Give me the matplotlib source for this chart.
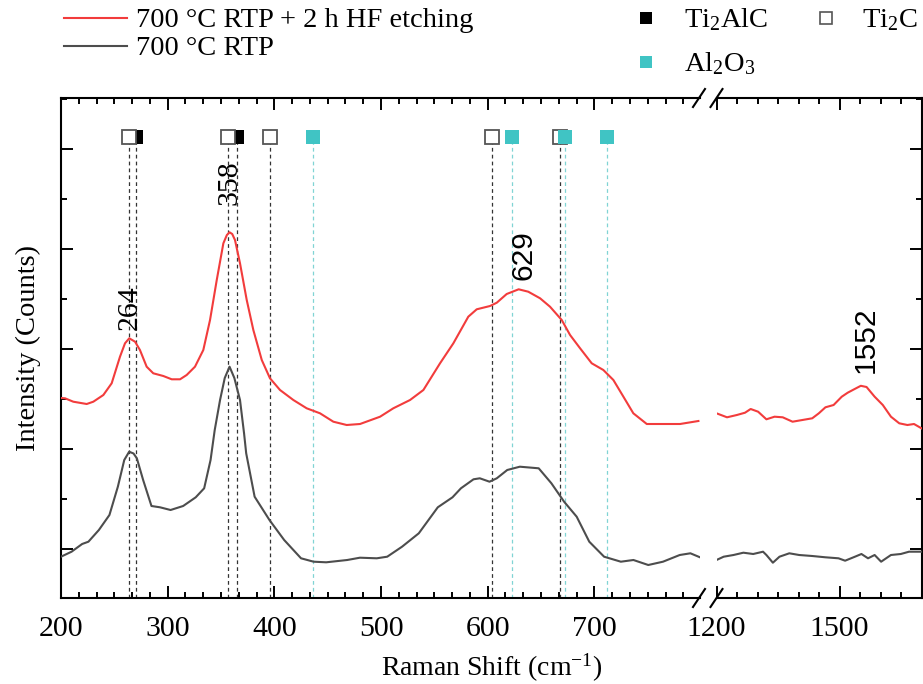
import matplotlib
matplotlib.use("Agg")
import matplotlib.pyplot as plt
from matplotlib.lines import Line2D
from matplotlib.ticker import MultipleLocator

plt.rcParams['font.family'] = ['Liberation Serif', 'DejaVu Serif']
plt.rcParams['mathtext.fontset'] = 'custom'
plt.rcParams['mathtext.rm'] = 'Liberation Serif'
plt.rcParams['mathtext.it'] = 'Liberation Serif:italic'
plt.rcParams['mathtext.bf'] = 'Liberation Serif:bold'

# ---- Raman spectra (shift in cm^-1, intensity in counts, offset) ----
# 700 °C RTP + 2 h HF etching, low-shift window
hf_low_x = [200, 203.8, 211.5, 224.1, 230.3, 239.7, 247.5, 255.3, 260.0, 264.0,
            269.4, 274.0, 280.3, 286.5, 295.9, 303.8, 311.6, 317.8, 325.6, 333.4,
            339.7, 346.0, 352.2, 355.5, 358.0, 360.5, 363.1, 367.8, 374.1, 380.3, 388.2, 395.9,
            405.3, 417.8, 430.3, 442.8, 455.3, 467.8, 480.3, 499.1, 511.5, 527.2,
            539.7, 555.3, 567.8, 581.8, 589.7, 602.2, 608.5, 617.8, 629.0, 638.0,
            649.1, 658.4, 669.4, 677.2, 686.6, 697.5, 708.4, 717.8, 727.2, 736.5,
            749.1, 764.7, 780.3, 797.5]
hf_low_y = [1510, 1507, 1473, 1450, 1473, 1540, 1657, 1923, 2057, 2107,
            2073, 1990, 1823, 1757, 1730, 1697, 1697, 1740, 1823, 1990,
            2290, 2690, 3057, 3140, 3167, 3150, 3090, 2857, 2490, 2190, 1890, 1707,
            1590, 1490, 1407, 1357, 1273, 1240, 1250, 1323, 1407, 1490,
            1590, 1857, 2057, 2323, 2397, 2430, 2463, 2550, 2597, 2573,
            2507, 2423, 2290, 2140, 2007, 1857, 1790, 1690, 1523, 1357,
            1250, 1250, 1250, 1280]
# 700 °C RTP + 2 h HF etching, high-shift window
hf_high_x = [1200, 1225.7, 1249.7, 1269.6, 1283.3, 1301.5, 1321.7, 1341.6, 1361.5,
             1385.5, 1409.5, 1433.5, 1449.6, 1465.7, 1485.6, 1505.5, 1520.0, 1537.0,
             1552.0, 1566.0, 1585.7, 1605.6, 1625.5, 1645.7, 1665.6, 1681.7, 1700]
hf_high_y = [1357, 1317, 1340, 1363, 1400, 1373, 1297, 1323, 1317,
             1273, 1290, 1307, 1357, 1417, 1440, 1523, 1563, 1600,
             1632, 1620, 1523, 1440, 1323, 1257, 1240, 1250, 1207]

# 700 °C RTP, low-shift window
rtp_low_x = [200, 209.9, 219.8, 225.7, 235.5, 245.4, 253.3, 259.3, 263.9, 268.0, 271.1,
             277.0, 284.8, 292.8, 302.7, 314.5, 326.3, 334.2, 340.2, 344.1, 349.1,
             353.5, 358.0, 362.5, 367.8, 371.6, 373.6, 381.5, 395.4, 409.2, 425.0, 436.8, 448.6,
             468.3, 480.2, 496.0, 505.8, 519.7, 535.4, 553.2, 567.0, 574.9, 586.7,
             592.6, 601.7, 608.5, 618.3, 630.1, 647.8, 659.7, 671.6, 683.4, 695.2,
             709.1, 724.8, 736.6, 750.5, 764.3, 780.0, 790.0, 799.0]
rtp_low_y = [-77, -27, 50, 73, 190, 340, 623, 890, 973, 955, 907,
             690, 430, 417, 390, 430, 517, 607, 890, 1190, 1490,
             1710, 1823, 1710, 1490, 1157, 957, 523, 290, 90, -93, -127, -133,
             -110, -87, -93, -77, 23, 157, 417, 517, 607, 697,
             707, 673, 707, 790, 823, 807, 657, 473, 323, 73,
             -77, -127, -110, -160, -127, -60, -43, -83]
# 700 °C RTP, high-shift window
rtp_high_x = [1200, 1217.5, 1241.5, 1265.5, 1289.5, 1313.5, 1321.7, 1337.5, 1353.6,
              1377.6, 1401.6, 1433.5, 1465.7, 1497.6, 1513.7, 1537.7, 1553.5, 1569.6,
              1585.7, 1601.5, 1625.5, 1649.5, 1669.6, 1700]
rtp_high_y = [-110, -77, -60, -37, -50, -27, -60, -137, -77,
              -43, -60, -70, -83, -93, -117, -77, -50, -93,
              -60, -127, -60, -50, -27, -27]

# ---- reference phase positions (cm^-1) ----
ti2alc_pos = [270, 365]
ti2c_pos = [264, 357, 396, 604, 668]
al2o3_pos = [436, 623, 672, 712]
marker_level = 4120

# ---- peak annotations ----
peak_labels = ['264', '358', '629', '1552']
peak_label_x = [264, 358, 634, 1565]
peak_label_y = [2190, 3440, 2690, 1760]
peak_label_font = ['Liberation Serif', 'Liberation Serif', 'Liberation Sans', 'Liberation Sans']

series_labels = ['700 °C RTP + 2 h HF etching', '700 °C RTP']
phase_labels = ['Ti$_2$AlC', 'Ti$_2$C', 'Al$_2$O$_3$']

RED = '#f23c3c'
GRAY = '#4d4d4d'
TEAL = '#40c4c4'
TEAL_LINE = '#80d4d4'
DASH_DARK = '#333333'
OPEN_EDGE = '#555555'

W, H = 923, 684
fig = plt.figure(figsize=(W / 100, H / 100), dpi=100)


def fx(px):
    return px / W


def fy(py):
    return 1 - py / H


ax_top, ax_bot = 98, 598
ax1 = fig.add_axes([fx(61), fy(ax_bot), (700 - 61) / W, (ax_bot - ax_top) / H])
ax2 = fig.add_axes([fx(716.5), fy(ax_bot), 205 / W, (ax_bot - ax_top) / H])

YLIM = (-490, 4510)
for ax in (ax1, ax2):
    ax.set_ylim(*YLIM)
    for s in ax.spines.values():
        s.set_linewidth(1.5)
    ax.yaxis.set_major_locator(MultipleLocator(1000))
    ax.yaxis.set_minor_locator(MultipleLocator(500))
    ax.tick_params(which='both', direction='in', width=1.4, labelsize=21.5,
                   top=True, labelleft=False, labelright=False)
    ax.tick_params(which='major', length=8.5, pad=13)
    ax.tick_params(which='minor', length=4.5)

ax1.set_xlim(200, 799)
ax1.xaxis.set_major_locator(MultipleLocator(100))
ax1.xaxis.set_minor_locator(MultipleLocator(100 / 6))
ax1.spines['right'].set_visible(False)
ax1.tick_params(which='both', left=True, right=False)

ax2.set_xlim(1200, 1700)
ax2.xaxis.set_major_locator(MultipleLocator(300))
ax2.xaxis.set_minor_locator(MultipleLocator(50))
ax2.spines['left'].set_visible(False)
ax2.tick_params(which='both', left=False, right=True)

# spectra
ax1.plot(hf_low_x, hf_low_y, color=RED, lw=1.5, zorder=3)
ax2.plot(hf_high_x, hf_high_y, color=RED, lw=1.5, zorder=3)
ax1.plot(rtp_low_x, rtp_low_y, color=GRAY, lw=1.5, zorder=3)
ax2.plot(rtp_high_x, rtp_high_y, color=GRAY, lw=1.5, zorder=3)

# phase reference lines and markers
dash = (0, (3, 2.5))
ax1.vlines(ti2alc_pos, YLIM[0], marker_level, colors=DASH_DARK, lw=0.9, linestyles=dash, zorder=2)
ax1.vlines(ti2c_pos, YLIM[0], marker_level, colors=DASH_DARK, lw=0.9, linestyles=dash, zorder=2)
ax1.vlines(al2o3_pos, YLIM[0], marker_level, colors=TEAL_LINE, lw=0.9, linestyles=dash, zorder=2)
ms = 9.7
ax1.plot(ti2alc_pos, [marker_level] * len(ti2alc_pos), 's', ms=ms, color='black',
         mec='black', mew=0, zorder=4, clip_on=False)
ax1.plot(ti2c_pos, [marker_level] * len(ti2c_pos), 's', ms=ms, mfc='white',
         mec=OPEN_EDGE, mew=1.3, zorder=5, clip_on=False)
ax1.plot(al2o3_pos, [marker_level] * len(al2o3_pos), 's', ms=ms, color=TEAL,
         mew=0, zorder=6, clip_on=False)

# peak annotations
axes_for_label = [ax1, ax1, ax1, ax2]
for a, t, x, y, fam in zip(axes_for_label, peak_labels, peak_label_x, peak_label_y, peak_label_font):
    a.text(x, y, t, rotation=90, ha='center', va='bottom', fontsize=21.5,
           family=[fam, 'DejaVu Sans'])

# axis labels
fig.text(fx(492), fy(668), 'Raman Shift (cm$^{-1}$)', ha='center', va='center', fontsize=20)
fig.text(fx(28), fy(348), 'Intensity (Counts)', ha='center', va='center',
         rotation=90, fontsize=20.5)

# axis-break marks on top and bottom spines
for py in (ax_top, ax_bot):
    for cx in (699, 716.5):
        fig.add_artist(Line2D([fx(cx - 6), fx(cx + 6)], [fy(py + 9), fy(py - 9)],
                              color='black', lw=1.5))

# series legend
for (py, col, lab) in zip((17.6, 45.6), (RED, GRAY), series_labels):
    fig.add_artist(Line2D([fx(64), fx(127)], [fy(py), fy(py)], color=col, lw=1.5))
    fig.text(fx(136), fy(py + 9.5), lab, ha='left', va='baseline', fontsize=20.5)

# phase legend
legend_items = [
    (646, 18, dict(color='black', mew=0), phase_labels[0], 684),
    (826, 18, dict(mfc='white', mec=OPEN_EDGE, mew=1.2), phase_labels[1], 862),
    (646, 62, dict(color=TEAL, mew=0), phase_labels[2], 684),
]
for (px, py, style, lab, tx) in legend_items:
    fig.add_artist(Line2D([fx(px)], [fy(py)], marker='s', ms=8.5, ls='none', **style))
    fig.text(fx(tx), fy(py + 9.5), lab, ha='left', va='baseline', fontsize=20.5)

fig.savefig('out.png', dpi=100)
